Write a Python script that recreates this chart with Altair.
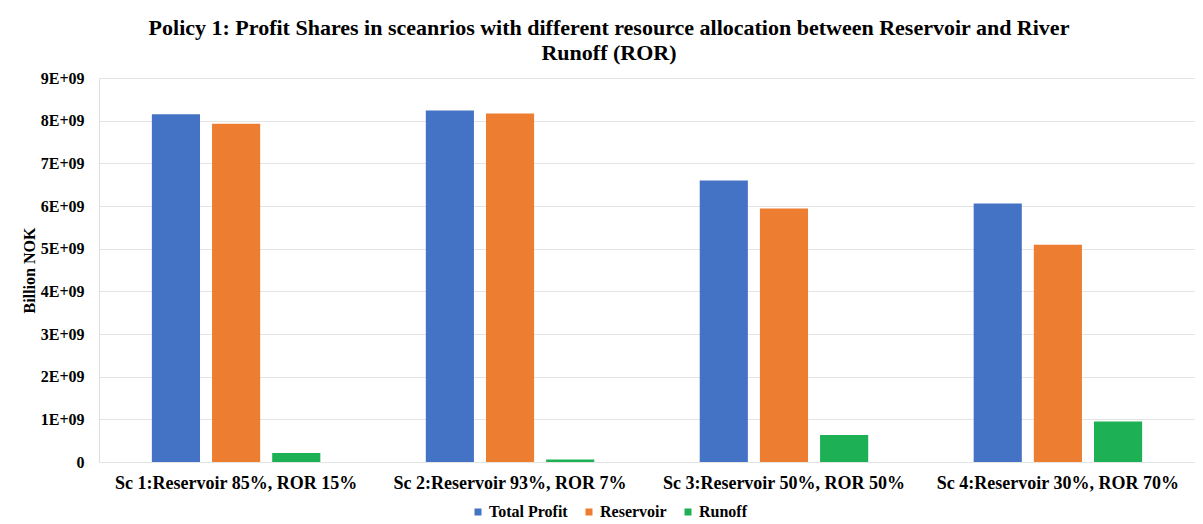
import altair as alt
import pandas as pd

scenarios = [
    "Sc 1:Reservoir 85%, ROR 15%",
    "Sc 2:Reservoir 93%, ROR 7%",
    "Sc 3:Reservoir 50%, ROR 50%",
    "Sc 4:Reservoir 30%, ROR 70%",
]
series = ["Total Profit", "Reservoir", "Runoff"]
total_profit = [8.15e9, 8.24e9, 6.60e9, 6.06e9]
reservoir = [7.93e9, 8.17e9, 5.94e9, 5.09e9]
runoff = [0.21e9, 0.06e9, 0.635e9, 0.95e9]
colors = ["#4472C4", "#ED7D31", "#1DB054"]
y_ticks = [0, 1e9, 2e9, 3e9, 4e9, 5e9, 6e9, 7e9, 8e9, 9e9]

rows = []
for i, sc in enumerate(scenarios):
    for s, vals in zip(series, [total_profit, reservoir, runoff]):
        rows.append({"Scenario": sc, "Series": s, "Value": vals[i]})
df = pd.DataFrame(rows)

font = "Liberation Serif"

chart = alt.Chart(df).mark_bar().encode(
    x=alt.X(
        "Scenario:N", sort=scenarios,
        scale=alt.Scale(paddingInner=0.385, paddingOuter=0.193),
        axis=alt.Axis(title=None, labelAngle=0, labelFont=font, labelFontSize=18,
                      labelFontWeight="bold", labelColor="black", domain=False,
                      ticks=False, labelPadding=12, labelLimit=0),
    ),
    xOffset=alt.XOffset("Series:N", sort=series,
                        scale=alt.Scale(paddingInner=0.2, paddingOuter=0)),
    y=alt.Y(
        "Value:Q",
        scale=alt.Scale(domain=[0, 9e9], nice=False),
        axis=alt.Axis(
            values=y_ticks,
            labelExpr="datum.value == 0 ? '0' : format(datum.value / 1e9, 'd') + 'E+09'",
            title="Billion NOK", titleFont=font, titleFontSize=16, titleFontWeight="bold",
            titleColor="black", titleAngle=-90, titleX=-70, titleY=192,
            titleAlign="center", titleBaseline="middle",
            labelFont=font, labelFontSize=16, labelFontWeight="bold", labelColor="black",
            labelPadding=15, ticks=False, domain=False, grid=True,
            gridColor="#e4e4e4", gridWidth=1,
        ),
    ),
    color=alt.Color(
        "Series:N", sort=series,
        scale=alt.Scale(domain=series, range=colors),
        legend=alt.Legend(
            title=None, orient="none", legendX=371, legendY=426, direction="horizontal",
            symbolType="square", symbolSize=49, symbolStrokeWidth=0,
            labelFont=font, labelFontSize=16, labelFontWeight="bold", labelColor="black",
            labelOffset=3, columnPadding=13,
        ),
    ),
).properties(
    width=1096,
    height=384,
    title=alt.TitleParams(
        text=["Policy 1: Profit Shares in sceanrios with different resource allocation between  Reservoir and River",
              "Runoff (ROR)"],
        font=font, fontSize=22, fontWeight="bold", color="black",
        anchor="middle", dx=-38, offset=5, lineHeight=25,
    ),
    autosize=alt.AutoSizeParams(type="none"),
    padding={"left": 91, "top": 70, "right": 0, "bottom": 62},
).configure_view(stroke=None).configure(background="white")

chart.save("out.html", embed_options={"renderer": "svg", "actions": False})
